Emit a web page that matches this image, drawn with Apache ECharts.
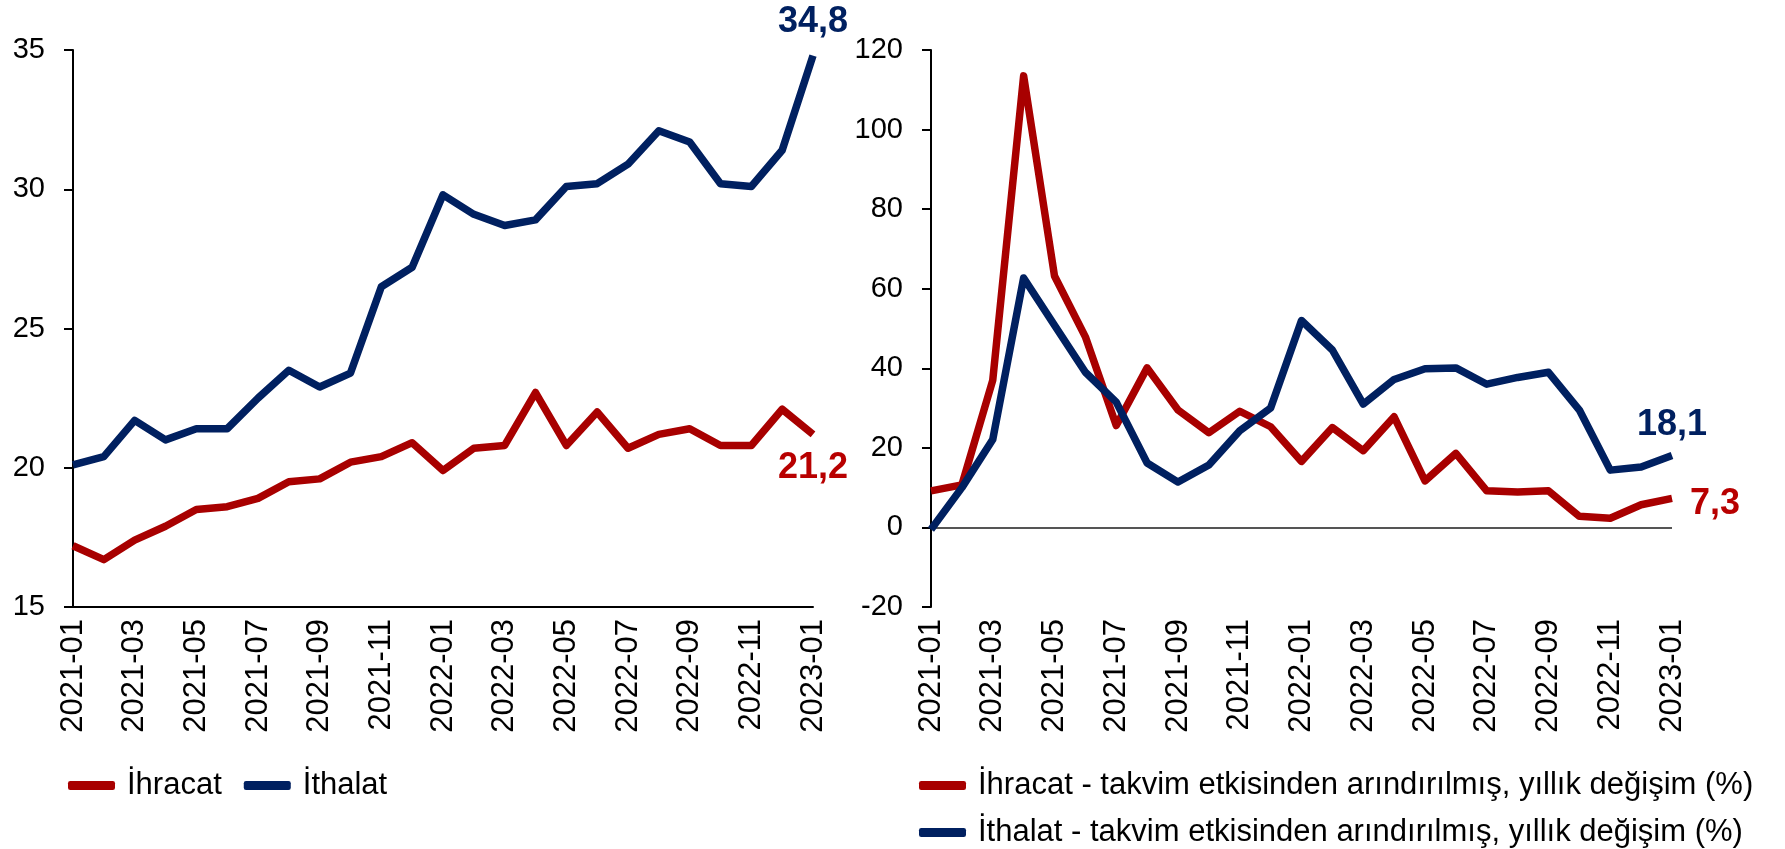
<!DOCTYPE html>
<html>
<head>
<meta charset="utf-8">
<script src="https://cdn.jsdelivr.net/npm/echarts@6/dist/echarts.min.js"></script>
<style>
  html, body { margin: 0; padding: 0; background: #fff; }
  #chart { width: 1785px; height: 849px; }
</style>
</head>
<body>
<div id="chart"></div>
<script>
// months shown on both x axes
const months = [
  '2021-01', '2021-02', '2021-03', '2021-04', '2021-05', '2021-06', '2021-07',
  '2021-08', '2021-09', '2021-10', '2021-11', '2021-12', '2022-01', '2022-02',
  '2022-03', '2022-04', '2022-05', '2022-06', '2022-07', '2022-08', '2022-09',
  '2022-10', '2022-11', '2022-12', '2023-01'
]

// left panel: levels
const ihracat = [17.2, 16.7, 17.4, 17.9, 18.5, 18.6, 18.9, 19.5, 19.6, 20.2, 20.4, 20.9, 19.9,
  20.7, 20.8, 22.7, 20.8, 22.0, 20.7, 21.2, 21.4, 20.8, 20.8, 22.1, 21.2]
const ithalat = [20.1, 20.4, 21.7, 21.0, 21.4, 21.4, 22.5, 23.5, 22.9, 23.4, 26.5, 27.2, 29.8,
  29.1, 28.7, 28.9, 30.1, 30.2, 30.9, 32.1, 31.7, 30.2, 30.1, 31.4, 34.8]

// right panel: calendar adjusted annual change (%)
const ihracatYoy = [9.2, 10.7, 37.0, 113.5, 63.2, 47.9, 25.6, 40.1, 29.5, 23.8, 29.2, 25.3, 16.6,
  25.1, 19.3, 27.8, 11.7, 18.6, 9.2, 8.9, 9.2, 2.8, 2.3, 5.7, 7.3]
const ithalatYoy = [-0.5, 10.0, 22.1, 62.7, 50.8, 39.0, 31.5, 16.2, 11.4, 15.7, 24.3, 30.0, 52.0,
  44.6, 31.0, 37.2, 39.9, 40.1, 36.0, 37.7, 39.0, 29.5, 14.4, 15.2, 18.1]

const NAME_EX = 'İhracat - takvim etkisinden arındırılmış, yıllık değişim (%)'
const NAME_IM = 'İthalat - takvim etkisinden arındırılmış, yıllık değişim (%)'

const RED = '#A80000'
const RED_LABEL = '#B80000'
const BLUE = '#002060'
const FONT = '"Liberation Sans", Arial, sans-serif'

const fmt = v => String(v).replace('.', ',')

// put a bold value label on the last point only
const withEndLabel = (values, color, position, offset) => values.map((v, i) => {
  if (i !== values.length - 1) return v
  return {
    value: v,
    label: {
      show: true,
      position,
      offset,
      color,
      fontSize: 36,
      fontWeight: 'bold',
      fontFamily: FONT,
      formatter: p => fmt(p.value)
    }
  }
})

const xAxisBase = gridIndex => ({
  type: 'category',
  gridIndex,
  data: months,
  boundaryGap: false,
  axisLine: { show: gridIndex === 0, lineStyle: { color: '#000', width: 2 } },
  axisTick: { show: false },
  axisLabel: {
    interval: 1,
    rotate: 90,
    margin: 12,
    fontSize: 31,
    color: '#000',
    fontFamily: FONT
  },
  splitLine: { show: false }
})

const yAxisBase = (gridIndex, min, max, interval) => ({
  type: 'value',
  gridIndex,
  min,
  max,
  interval,
  axisLine: { show: true, lineStyle: { color: '#000', width: 2 } },
  axisTick: { show: true, inside: false, length: 9, lineStyle: { color: '#000', width: 2 } },
  axisLabel: {
    margin: 28,
    fontSize: 29,
    color: '#000',
    fontFamily: FONT
  },
  splitLine: { show: false }
})

const legendBase = (names, left, top) => ({
  data: names,
  left,
  top,
  orient: 'horizontal',
  itemWidth: 47,
  itemHeight: 9,
  itemGap: 22,
  icon: 'roundRect',
  textStyle: { fontSize: 31, color: '#000', fontFamily: FONT, padding: [0, 0, 0, 7] }
})

const lineSeries = (name, xi, data, color, extra) => Object.assign({
  name,
  type: 'line',
  xAxisIndex: xi,
  yAxisIndex: xi,
  data,
  symbol: 'circle',
  symbolSize: 0,
  showSymbol: true,
  showAllSymbol: true,
  smooth: false,
  lineStyle: { width: 7.5, color, join: 'round' },
  itemStyle: { color },
  emphasis: { disabled: true },
  animation: false
}, extra || {})

const chart = echarts.init(document.getElementById('chart'), null, { renderer: 'canvas' })

chart.setOption({
  backgroundColor: '#fff',
  animation: false,
  grid: [
    { left: 73, top: 50, width: 740, height: 557 },
    { left: 931, top: 50, width: 741, height: 557 }
  ],
  xAxis: [xAxisBase(0), xAxisBase(1)],
  yAxis: [yAxisBase(0, 15, 35, 5), yAxisBase(1, -20, 120, 20)],
  legend: [
    legendBase(['İhracat', 'İthalat'], 63, 765),
    legendBase([NAME_EX], 914, 765),
    legendBase([NAME_IM], 914, 812)
  ],
  series: [
    lineSeries('İhracat', 0, withEndLabel(ihracat, RED_LABEL, 'bottom', [0, 11]), RED),
    lineSeries('İthalat', 0, withEndLabel(ithalat, BLUE, 'top', [0, -10]), BLUE),
    lineSeries(NAME_EX, 1, withEndLabel(ihracatYoy, RED_LABEL, 'right', [13, 6]), RED, {
      markLine: {
        silent: true,
        symbol: 'none',
        label: { show: false },
        lineStyle: { color: '#555', width: 2, type: 'solid' },
        data: [{ yAxis: 0 }],
        z: 1
      }
    }),
    lineSeries(NAME_IM, 1, withEndLabel(ithalatYoy, BLUE, 'top', [0, -7]), BLUE)
  ]
})
</script>
</body>
</html>
